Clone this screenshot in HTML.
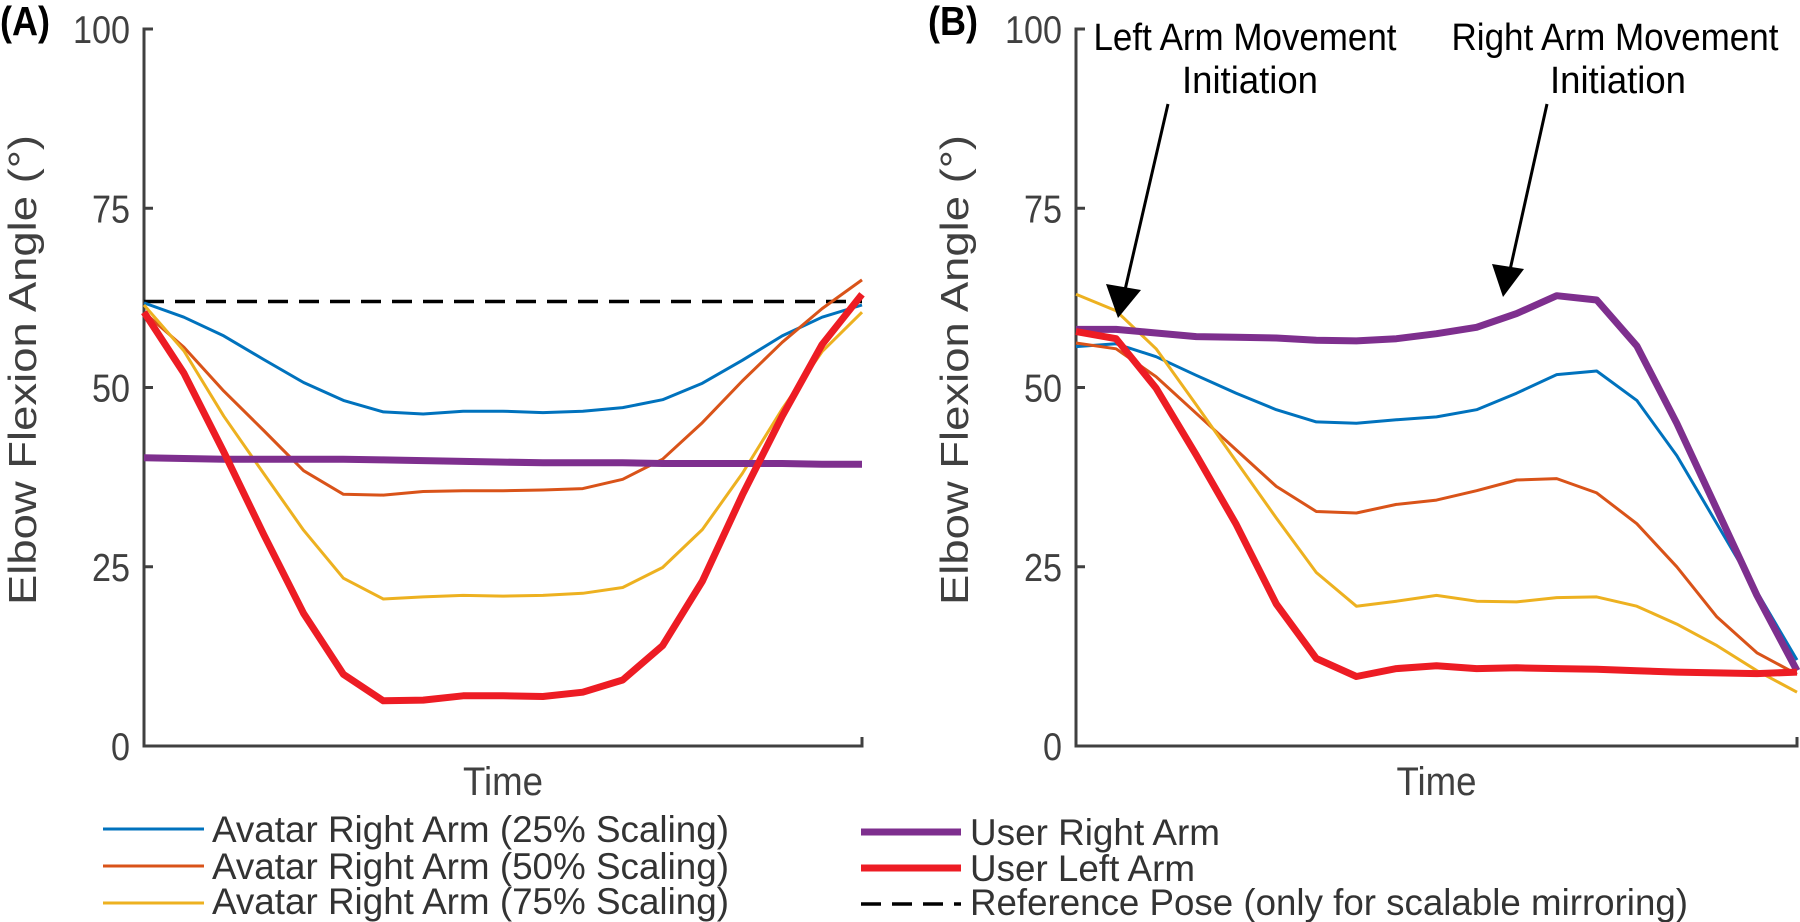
<!DOCTYPE html>
<html><head><meta charset="utf-8"><style>
body{margin:0;background:#fff;}
svg{display:block;font-family:"Liberation Sans",sans-serif;}
</style></head><body>
<svg id="chart" width="1800" height="922" viewBox="0 0 1800 922">
<text x="0" y="35" font-size="41" font-weight="bold" textLength="50" lengthAdjust="spacingAndGlyphs">(A)</text>
<text x="928" y="35" font-size="41" font-weight="bold" textLength="50" lengthAdjust="spacingAndGlyphs">(B)</text>
<g id="pa"></g>
<g id="pb"></g>
<g font-size="38" fill="#000" text-anchor="middle">
<text x="1245" y="50" textLength="303" lengthAdjust="spacingAndGlyphs">Left Arm Movement</text>
<text x="1250" y="93" textLength="136" lengthAdjust="spacingAndGlyphs">Initiation</text>
<text x="1615" y="50" textLength="327" lengthAdjust="spacingAndGlyphs">Right Arm Movement</text>
<text x="1618" y="93" textLength="136" lengthAdjust="spacingAndGlyphs">Initiation</text>
</g>
<g><line x1="1168" y1="104" x2="1125" y2="290" stroke="#000" stroke-width="3"/><polygon points="1118,318 1106,284 1141,290" fill="#000"/></g>
<g><line x1="1547" y1="104" x2="1510" y2="270" stroke="#000" stroke-width="3"/><polygon points="1503,297 1492,264 1524,269" fill="#000"/></g>
<g font-size="37" fill="#333">
<g><line x1="103" y1="829" x2="204" y2="829" stroke="#0072BD" stroke-width="3"/><text x="212" y="842" textLength="517" lengthAdjust="spacingAndGlyphs">Avatar Right Arm (25% Scaling)</text></g>
<g><line x1="103" y1="866" x2="204" y2="866" stroke="#D95319" stroke-width="3"/><text x="212" y="879" textLength="517" lengthAdjust="spacingAndGlyphs">Avatar Right Arm (50% Scaling)</text></g>
<g><line x1="103" y1="903" x2="204" y2="903" stroke="#EDB120" stroke-width="3"/><text x="212" y="914" textLength="517" lengthAdjust="spacingAndGlyphs">Avatar Right Arm (75% Scaling)</text></g>
<g><line x1="861" y1="832" x2="961" y2="832" stroke="#7E2F8E" stroke-width="7"/><text x="970" y="845" textLength="250" lengthAdjust="spacingAndGlyphs">User Right Arm</text></g>
<g><line x1="861" y1="868" x2="961" y2="868" stroke="#ED1C24" stroke-width="7"/><text x="970" y="881" textLength="225" lengthAdjust="spacingAndGlyphs">User Left Arm</text></g>
<g><line x1="861" y1="904" x2="961" y2="904" stroke="#000" stroke-width="3.5" stroke-dasharray="20,11"/><text x="970" y="915" textLength="718" lengthAdjust="spacingAndGlyphs">Reference Pose (only for scalable mirroring)</text></g>
</g>
</svg>
<script>
const yTicks=[0,25,50,75,100];
const yTickLabels=["0","25","50","75","100"];
const aBlue=[61.8,59.8,57.2,53.9,50.7,48.2,46.6,46.3,46.7,46.7,46.5,46.7,47.2,48.3,50.6,53.8,57.2,59.8,61.5];
const aOrange=[60.5,55.6,49.5,44,38.4,35.1,35,35.5,35.6,35.6,35.7,35.9,37.2,40,45.1,50.9,56.3,61,65];
const aYellow=[61.5,55.1,46,38,30.1,23.4,20.5,20.8,21,20.9,21,21.3,22.1,24.9,30.2,38,47,55,60.5];
const aRed=[60.5,52,41,29.5,18.5,10,6.3,6.4,7,7,6.9,7.5,9.2,14,23,35,46,56,63];
const aPurple=[40.2,40.1,40,40,40,40,39.9,39.8,39.7,39.6,39.5,39.5,39.5,39.4,39.4,39.4,39.4,39.3,39.3];
const aReference=[62,62];
const bBlue=[55.7,56.1,54.3,51.7,49.2,46.9,45.2,45,45.5,45.9,46.9,49.2,51.8,52.3,48.2,40.5,31,21.5,12];
const bOrange=[56.2,55.4,51.5,46.4,41.3,36.2,32.7,32.5,33.7,34.3,35.6,37.1,37.3,35.3,31,25,18,13,10];
const bYellow=[63,60.7,55.4,47.6,39.7,31.8,24.2,19.5,20.2,21,20.2,20.1,20.7,20.8,19.5,17,14,10.5,7.5];
const bRed=[57.8,56.8,49.9,40.6,30.9,19.8,12.2,9.7,10.8,11.2,10.8,10.9,10.8,10.7,10.5,10.3,10.2,10.1,10.3];
const bPurple=[58.1,58.1,57.6,57.1,57,56.9,56.6,56.5,56.8,57.5,58.4,60.3,62.8,62.2,55.8,45,33,21,10.5];

const NS="http://www.w3.org/2000/svg";
function mk(tag,attrs,parent){const e=document.createElementNS(NS,tag);for(const k in attrs)e.setAttribute(k,attrs[k]);parent.appendChild(e);return e;}
function panel(g,x0,x1,series,ylabX,hasRef){
  const y0=746,y1=29;
  const ys=v=>y0-(v/100)*(y0-y1);
  const xs=(i,n)=>x0+i*(x1-x0)/(n-1);
  const ax=mk('path',{d:`M${x0+9} ${y1} H${x0} V${y0} H${x1} V${y0-9}`,fill:'none',stroke:'#404040','stroke-width':3},g);
  
  
  yTicks.forEach((t,i)=>{
    const tk=mk('line',{x1:x0,x2:x0+9,y1:ys(t),y2:ys(t),stroke:'#404040','stroke-width':3},g);
    
    
    const lab=yTickLabels[i];
    const tl=mk('text',{x:x0-14,y:ys(t)+14,'text-anchor':'end','font-size':39,fill:'#404040',textLength:lab.length*19,lengthAdjust:'spacingAndGlyphs'},g);
    tl.textContent=lab;
    
    
  });
  const yl=mk('text',{x:0,y:0,transform:`translate(${ylabX},370) rotate(-90)`,'text-anchor':'middle','font-size':39,fill:'#404040',textLength:470,lengthAdjust:'spacingAndGlyphs'},g);
  yl.textContent='Elbow Flexion Angle (°)';
  
  
  const xl=mk('text',{x:(x0+x1)/2,y:795,'text-anchor':'middle','font-size':40,fill:'#404040',textLength:80,lengthAdjust:'spacingAndGlyphs'},g);
  xl.textContent='Time';
  
  
  if(hasRef){
    const r=mk('line',{x1:x0,x2:x1,y1:ys(aReference[0]),y2:ys(aReference[1]),stroke:'#000','stroke-width':3.5,'stroke-dasharray':'20,11'},g);
    
    
  }
  series.forEach(s=>{
    const pts=s.d.map((v,i)=>xs(i,s.d.length).toFixed(1)+','+ys(v).toFixed(1)).join(' ');
    const p=mk('polyline',{points:pts,fill:'none',stroke:s.c,'stroke-width':s.w,'stroke-linejoin':'round'},g);
    
    
  });
}
panel(document.getElementById('pa'),144,862,[
 {d:aBlue,c:'#0072BD',w:3,n:'avatar-25-line'},
 {d:aOrange,c:'#D95319',w:3,n:'avatar-50-line'},
 {d:aYellow,c:'#EDB120',w:3,n:'avatar-75-line'},
 {d:aPurple,c:'#7E2F8E',w:7,n:'user-right-arm-line'},
 {d:aRed,c:'#ED1C24',w:7,n:'user-left-arm-line'}],36,true);
panel(document.getElementById('pb'),1076,1797,[
 {d:bBlue,c:'#0072BD',w:3,n:'avatar-25-line'},
 {d:bOrange,c:'#D95319',w:3,n:'avatar-50-line'},
 {d:bYellow,c:'#EDB120',w:3,n:'avatar-75-line'},
 {d:bPurple,c:'#7E2F8E',w:7,n:'user-right-arm-line'},
 {d:bRed,c:'#ED1C24',w:7,n:'user-left-arm-line'}],968,false);
</script>
</body></html>
